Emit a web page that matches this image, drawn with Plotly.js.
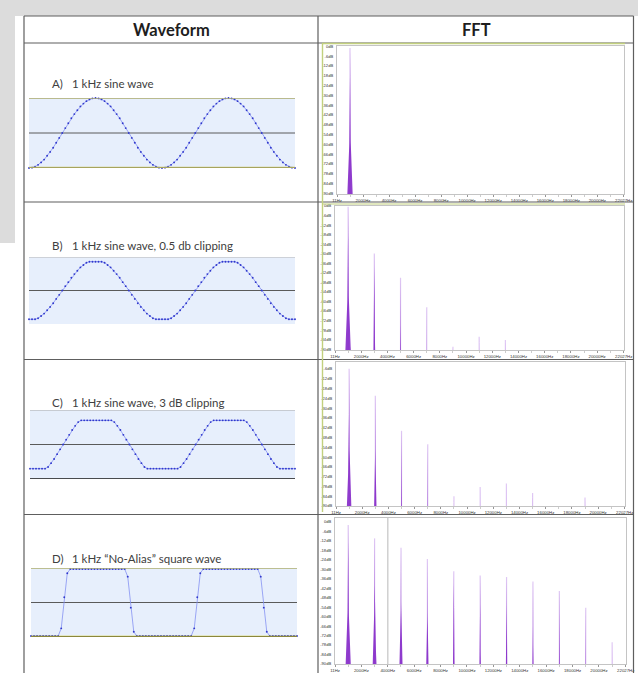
<!DOCTYPE html>
<html><head><meta charset="utf-8">
<script src="https://cdn.plot.ly/plotly-3.0.1.min.js"></script>
<style>html,body{margin:0;padding:0;background:#fff;}#chart{width:638px;height:673px;}</style>
</head><body><div id="chart"></div>
<script>
// ---------- DATA ----------
const headers = ["Waveform", "FFT"];
const rowLetters = ["A)", "B)", "C)", "D)"];
const rowTitles = ["1 kHz sine wave", "1 kHz sine wave, 0.5 db clipping", "1 kHz sine wave, 3 dB clipping", "1 kHz \u201cNo-Alias\u201d square wave"];

// waveform samples (2 cycles of 1 kHz at 44.1 kHz), normalised to the display box
const waveA = [-1.00,-0.99,-0.96,-0.91,-0.84,-0.76,-0.65,-0.54,-0.42,-0.28,-0.14,0.00,0.14,0.28,0.42,0.54,0.65,0.76,0.84,0.91,0.96,0.99,1.00,0.99,0.96,0.91,0.84,0.76,0.65,0.54,0.42,0.28,0.14,0.00,-0.14,-0.28,-0.42,-0.54,-0.65,-0.76,-0.84,-0.91,-0.96,-0.99,
  -1.00,-0.99,-0.96,-0.91,-0.84,-0.76,-0.65,-0.54,-0.42,-0.28,-0.14,0.00,0.14,0.28,0.42,0.54,0.65,0.76,0.84,0.91,0.96,0.99,1.00,0.99,0.96,0.91,0.84,0.76,0.65,0.54,0.42,0.28,0.14,0.00,-0.14,-0.28,-0.42,-0.54,-0.65,-0.76,-0.84,-0.91,-0.96,-0.99,-1.00];
const waveB = [-0.86,-0.86,-0.86,-0.83,-0.76,-0.69,-0.59,-0.49,-0.38,-0.25,-0.13,0.00,0.13,0.25,0.38,0.49,0.59,0.69,0.76,0.83,0.86,0.86,0.86,0.86,0.86,0.83,0.76,0.69,0.59,0.49,0.38,0.25,0.13,0.00,-0.13,-0.25,-0.38,-0.49,-0.59,-0.69,-0.76,-0.83,-0.86,-0.86,
  -0.86,-0.86,-0.86,-0.83,-0.76,-0.69,-0.59,-0.49,-0.38,-0.25,-0.13,0.00,0.13,0.25,0.38,0.49,0.59,0.69,0.76,0.83,0.86,0.86,0.86,0.86,0.86,0.83,0.76,0.69,0.59,0.49,0.38,0.25,0.13,0.00,-0.13,-0.25,-0.38,-0.49,-0.59,-0.69,-0.76,-0.83,-0.86,-0.86,-0.86];
const waveC = [-0.70,-0.70,-0.70,-0.70,-0.70,-0.70,-0.65,-0.54,-0.42,-0.28,-0.14,0.00,0.14,0.28,0.42,0.54,0.65,0.70,0.70,0.70,0.70,0.70,0.70,0.70,0.70,0.70,0.70,0.70,0.65,0.54,0.42,0.28,0.14,0.00,-0.14,-0.28,-0.42,-0.54,-0.65,-0.70,-0.70,-0.70,-0.70,-0.70,
  -0.70,-0.70,-0.70,-0.70,-0.70,-0.70,-0.65,-0.54,-0.42,-0.28,-0.14,0.00,0.14,0.28,0.42,0.54,0.65,0.70,0.70,0.70,0.70,0.70,0.70,0.70,0.70,0.70,0.70,0.70,0.65,0.54,0.42,0.28,0.14,0.00,-0.14,-0.28,-0.42,-0.54,-0.65,-0.70,-0.70,-0.70,-0.70,-0.70,-0.70];
const waveD = [-0.97,-0.97,-0.97,-0.97,-0.97,-0.97,-0.97,-0.97,-0.97,-0.97,-0.75,0.15,0.85,0.97,0.97,0.97,0.97,0.97,0.97,0.97,0.97,0.97,0.97,0.97,0.97,0.97,0.97,0.97,0.97,0.97,0.97,0.97,0.75,-0.15,-0.85,-0.97,-0.97,-0.97,-0.97,-0.97,-0.97,-0.97,-0.97,-0.97,
  -0.97,-0.97,-0.97,-0.97,-0.97,-0.97,-0.97,-0.97,-0.97,-0.97,-0.75,0.15,0.85,0.97,0.97,0.97,0.97,0.97,0.97,0.97,0.97,0.97,0.97,0.97,0.97,0.97,0.97,0.97,0.97,0.97,0.97,0.97,0.75,-0.15,-0.85,-0.97,-0.97,-0.97,-0.97,-0.97,-0.97,-0.97,-0.97,-0.97,-0.97];

// FFT peaks (Hz, dB)
const fftFreqA = [1000];
const fftDbA   = [-1.0];
const fftFreqB = [1000, 3000, 5000, 7000, 9000, 11000, 13000];
const fftDbB   = [-0.5, -29.8, -45.1, -63.7, -88.5, -82.2, -84.2];
const fftFreqC = [1000, 3000, 5000, 7000, 9000, 11000, 13000, 15000, 19000];
const fftDbC   = [-5.8, -22.4, -43.9, -52.1, -84.0, -78.3, -76.2, -82.1, -84.8];
const fftFreqD = [1000, 3000, 5000, 7000, 9000, 11000, 13000, 15000, 17000, 19000, 21000];
const fftDbD   = [-2.0, -10.4, -16.3, -23.5, -31.3, -34.0, -34.9, -37.8, -43.7, -54.3, -76.2];
const cursorD = 4000;

const dbTickVals = [0,-6,-12,-18,-24,-30,-36,-42,-48,-54,-60,-66,-72,-78,-84,-90];
const dbTickText = ["0dB","-6dB","-12dB","-18dB","-24dB","-30dB","-36dB","-42dB","-48dB","-54dB","-60dB","-66dB","-72dB","-78dB","-84dB","-90dB"];
const hzTickVals = [11,2000,4000,6000,8000,10000,12000,14000,16000,18000,20000,22027];
const hzTickText = ["11Hz","2000Hz","4000Hz","6000Hz","8000Hz","10000Hz","12000Hz","14000Hz","16000Hz","18000Hz","20000Hz","22027Hz"];

// ---------- LAYOUT (pixel geometry) ----------
const W = 638, H = 673;
const px = x => x / W, py = y => 1 - y / H;
const waves = [waveA, waveB, waveC, waveD];
const waveBoxes = [
  {x0:29, x1:295, y0:98,  y1:168},
  {x0:29, x1:295, y0:257, y1:324},
  {x0:30, x1:295, y0:410, y1:479},
  {x0:31, x1:297, y0:568, y1:637}];
const ffts = [[fftFreqA, fftDbA],[fftFreqB, fftDbB],[fftFreqC, fftDbC],[fftFreqD, fftDbD]];
const fftBoxes = [
  {x0:337, x1:624, y0:46,  y1:194, yr:[-90.5, 0.3]},
  {x0:335, x1:624, y0:206, y1:350, yr:[-90.5, 0]},
  {x0:336, x1:625, y0:362, y1:506, yr:[-90, -1.7]},
  {x0:335, x1:626, y0:518, y1:664, yr:[-90, 2.5]}];
const labelY = [83, 245, 402.5, 558];

const FONT = "Lato, 'Open Sans', sans-serif";
const data = [], shapes = [], annotations = [];
const layout = {
  width: W, height: H, margin: {l:0, r:0, t:0, b:0},
  paper_bgcolor: '#ffffff', plot_bgcolor: '#ffffff', showlegend: false,
  shapes, annotations
};
const sfx = n => n === 1 ? '' : String(n);

// background grey strips
shapes.push({type:'rect', xref:'paper', yref:'paper', x0:0, x1:1, y0:py(16), y1:1, fillcolor:'#dcdcdc', line:{width:0}, layer:'below'});
shapes.push({type:'rect', xref:'paper', yref:'paper', x0:0, x1:px(15), y0:py(243), y1:1, fillcolor:'#dcdcdc', line:{width:0}, layer:'below'});

// waveform panels
waves.forEach((w, i) => {
  const n = i + 1, b = waveBoxes[i];
  const xa = 'xaxis' + sfx(n), ya = 'yaxis' + sfx(n);
  layout[xa] = {domain:[px(b.x0), px(b.x1)], range:[0, w.length - 1], visible:false, anchor:'y'+sfx(n), fixedrange:true};
  layout[ya] = {domain:[py(b.y1), py(b.y0)], range:[-1, 1], visible:false, anchor:'x'+sfx(n), fixedrange:true};
  const xr = 'x' + sfx(n), yr = 'y' + sfx(n);
  shapes.push({type:'rect', xref:xr+' domain', yref:yr+' domain', x0:0, x1:1, y0:0, y1:1, fillcolor:'#e7effc', line:{width:0}, layer:'below'});
  shapes.push({type:'line', xref:xr+' domain', yref:yr, x0:0, x1:1, y0:0, y1:0, line:{color:'#5a5a5a', width:1}, layer:'below'});
  data.push({x: w.map((_, k) => k), y: w, xaxis: xr, yaxis: yr, type:'scatter', mode:'lines+markers',
    line:{color:'#8592f2', width:0.8}, marker:{size:1.9, color:'#3038cc'}, cliponaxis:false, hoverinfo:'skip'});
});
// box edge lines per panel
const edge = (n, yv, color, width) => shapes.push({type:'line', xref:'x'+sfx(n)+' domain', yref:'y'+sfx(n), x0:0, x1:1, y0:yv, y1:yv, line:{color, width}});
edge(1, 1, '#aaa86a', 1.5);  edge(1, -1, '#cfca6a', 2.5); edge(1, -1, '#6a6a4a', 0.8);
edge(2, 1, '#b4b4b4', 1);
edge(3, 1, '#a8a8a8', 1);    edge(3, -1, '#151515', 1.5);
edge(4, 1, '#aeae6e', 1.5);  edge(4, -1, '#d6cf20', 2.5); edge(4, -1, '#303060', 0.9);

// FFT panels
ffts.forEach(([freqs, dbs], i) => {
  const n = i + 5, b = fftBoxes[i];
  const xr = 'x' + n, yr = 'y' + n;
  const bottom = b.yr[0];
  layout['xaxis' + n] = {domain:[px(b.x0), px(b.x1)], range:[0, 22050], anchor: yr,
    tickmode:'array', tickvals: hzTickVals, ticktext: hzTickText,
    tickfont:{size:4.3, family:"'Liberation Sans', Arial, sans-serif", color:'#333'},
    ticks:'outside', ticklen:2, tickwidth:0.8, tickcolor:'#888', tickangle:0,
    minor:{ticks:'outside', ticklen:1.5, dtick:1000, tick0:0, tickcolor:'#aaa', tickwidth:0.6},
    showgrid:false, zeroline:false, showline:true, mirror:true, linecolor:'#c4c4c4', linewidth:1, fixedrange:true};
  layout['yaxis' + n] = {domain:[py(b.y1), py(b.y0)], range: b.yr, anchor: xr,
    tickmode:'array', tickvals: dbTickVals, ticktext: dbTickText,
    tickfont:{size:4.1, family:"'Liberation Sans', Arial, sans-serif", color:'#333'},
    ticks:'', ticklabelstandoff:2,
    showgrid:false, zeroline:false, showline:true, mirror:true, linecolor:'#c4c4c4', linewidth:1, fixedrange:true};
  // faint full-height spike lines
  const lx = [], ly = [];
  freqs.forEach((f, k) => { lx.push(f, f, null); ly.push(bottom, dbs[k], null); });
  data.push({x: lx, y: ly, xaxis: xr, yaxis: yr, type:'scatter', mode:'lines',
    line:{color:'rgba(170,105,225,0.36)', width:1.2}, hoverinfo:'skip'});
  // spike bodies: narrow peaks widening towards the floor
  const sx = [], sy = [];
  const hwOf = d => 2.5 + 0.00028 * d * d * d;
  freqs.forEach((f, k) => {
    const top = dbs[k], depth = top - bottom;
    const left = [], right = [];
    for (let d = 0; d <= depth + 0.001; d += 2) {
      left.push([f - hwOf(d), top - d]); right.push([f + hwOf(d), top - d]);
    }
    left.push([f - hwOf(depth), bottom]); right.push([f + hwOf(depth), bottom]);
    left.reverse().forEach(p => { sx.push(p[0]); sy.push(p[1]); });
    right.forEach(p => { sx.push(p[0]); sy.push(p[1]); });
    sx.push(null); sy.push(null);
  });
  data.push({x: sx, y: sy, xaxis: xr, yaxis: yr, type:'scatter', mode:'lines', fill:'toself',
    fillcolor:'rgba(132,40,200,0.9)', line:{width:0, color:'rgba(0,0,0,0)'}, hoverinfo:'skip'});
});
// cursor line in D
shapes.push({type:'line', xref:'x8', yref:'y8 domain', x0:cursorD, x1:cursorD, y0:0, y1:1, line:{color:'#d0d0d0', width:1.5}, layer:'below'});

// table lines
const TL = '#5e5e5e';
const hline = (y, x0, x1, color, w) => shapes.push({type:'line', xref:'paper', yref:'paper', x0:px(x0), x1:px(x1), y0:py(y), y1:py(y), line:{color, width:w}});
const vline = (x, y0, y1, color, w) => shapes.push({type:'line', xref:'paper', yref:'paper', x0:px(x), x1:px(x), y0:py(y0), y1:py(y1), line:{color, width:w}});
hline(16, 24, 633.5, TL, 1.2);
hline(43, 24, 633.5, TL, 1.2);
hline(202, 24, 633.5, TL, 1.2);
hline(359.5, 24, 633.5, TL, 1.2);
hline(514.5, 24, 633.5, TL, 1.2);
vline(24, 16, 673, TL, 1.2);
vline(318, 16, 673, TL, 1.2);
vline(633.5, 16, 673, TL, 1.2);
// green selection frame around the FFT screenshots
hline(43.5, 322, 625, '#c2d07e', 1.4);
hline(204, 322, 625, '#c2d07e', 1.2);
vline(322.5, 43.5, 512, '#c2d07e', 1.4);

// header texts
annotations.push({xref:'paper', yref:'paper', x:px(171), y:py(30), text:'<b>'+headers[0]+'</b>', showarrow:false, xanchor:'center', yanchor:'middle', font:{family:FONT, size:16.5, color:'#1e1e1e'}});
annotations.push({xref:'paper', yref:'paper', x:px(476), y:py(30), text:'<b>'+headers[1]+'</b>', showarrow:false, xanchor:'center', yanchor:'middle', font:{family:FONT, size:16.5, color:'#1e1e1e'}});
// row labels
rowTitles.forEach((t, i) => {
  annotations.push({xref:'paper', yref:'paper', x:px(49.5), y:py(labelY[i]), text:rowLetters[i], showarrow:false, xanchor:'left', yanchor:'middle', font:{family:FONT, size:11.5, color:'#404040'}});
  annotations.push({xref:'paper', yref:'paper', x:px(69.5), y:py(labelY[i]), text:t, showarrow:false, xanchor:'left', yanchor:'middle', font:{family:FONT, size:11.5, color:'#404040'}});
});

Plotly.newPlot('chart', data, layout, {displayModeBar:false, staticPlot:true});
</script></body></html>
